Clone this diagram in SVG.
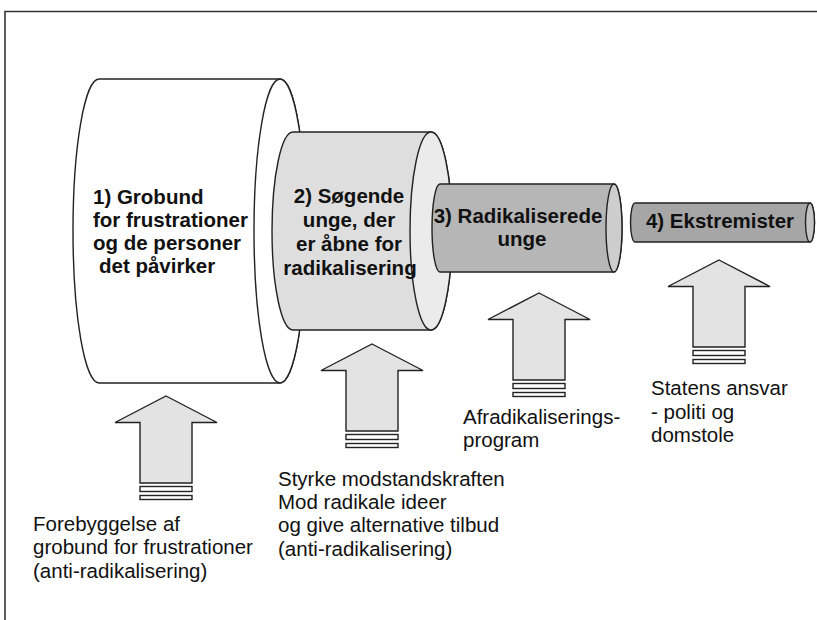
<svg xmlns="http://www.w3.org/2000/svg" xmlns:xlink="http://www.w3.org/1999/xlink" width="817" height="620" viewBox="0 0 817 620">
  <style>
    .ln { stroke: #222; stroke-width: 1.4; }
    .cyl-t { font-family: "Liberation Sans", Arial, sans-serif; font-weight: bold; font-size: 20.5px; fill: #111; }
    .lbl { font-family: "Liberation Sans", Arial, sans-serif; font-size: 20.5px; fill: #111; }
    .mid { text-anchor: middle; }
  </style>
  <defs>
    <g id="blockArrow">
      <polygon points="0,0 51,26.5 26,26.5 26,87 -26,87 -26,26.5 -51,26.5" fill="#e3e3e3" class="ln"/>
      <rect x="-26" y="90.5" width="52" height="5" fill="#fff" class="ln"/>
      <rect x="-26" y="99.5" width="52" height="4" fill="#fff" class="ln"/>
    </g>
  </defs>
  <rect x="0" y="0" width="817" height="620" fill="#fff"/>
  <g id="frame" fill="none" stroke="#333" stroke-width="1.6">
    <path d="M5,620 L5,11.5 L817,11.5"/>
  </g>

  <g id="node1">
    <path d="M99,79 L280,79 A26,152 0 0 1 280,383 L99,383 A26,152 0 0 1 99,79 Z" fill="#fff" class="ln"/>
    <ellipse cx="280" cy="231" rx="26" ry="152" fill="#fff" class="ln"/>
    <text class="cyl-t" x="93" y="204">1) Grobund</text>
    <text class="cyl-t" x="93" y="227">for frustrationer</text>
    <text class="cyl-t" x="93" y="250">og de personer</text>
    <text class="cyl-t" x="99" y="273">det påvirker</text>
  </g>

  <g id="node2">
    <path d="M293,132 L431,132 A21,99 0 0 1 431,330 L293,330 A21,99 0 0 1 293,132 Z" fill="#dedede" class="ln"/>
    <ellipse cx="431" cy="231" rx="21" ry="99" fill="#ebebeb" class="ln"/>
    <text class="cyl-t mid" x="349" y="203">2) Søgende</text>
    <text class="cyl-t mid" x="349" y="227">unge, der</text>
    <text class="cyl-t mid" x="349" y="251">er åbne for</text>
    <text class="cyl-t mid" x="350" y="275">radikalisering</text>
  </g>

  <g id="node3">
    <path d="M440,184 L614,184 A8,44 0 0 1 614,272 L440,272 A8,44 0 0 1 440,184 Z" fill="#b6b6b6" class="ln"/>
    <ellipse cx="614" cy="228" rx="8" ry="44" fill="#cdcdcd" class="ln"/>
    <text class="cyl-t mid" x="518" y="223">3) Radikaliserede</text>
    <text class="cyl-t mid" x="522" y="246">unge</text>
  </g>

  <g id="node4">
    <path d="M635,203 L810,203 A4.5,19.5 0 0 1 810,242 L635,242 A4.5,19.5 0 0 1 635,203 Z" fill="#a6a6a6" class="ln"/>
    <ellipse cx="810" cy="222.5" rx="4.5" ry="19.5" fill="#c4c4c4" class="ln"/>
    <text class="cyl-t mid" x="720" y="228">4) Ekstremister</text>
  </g>

  <g id="connectors">
    <use xlink:href="#blockArrow" transform="translate(166,396)"/>
    <use xlink:href="#blockArrow" transform="translate(372,344)"/>
    <use xlink:href="#blockArrow" transform="translate(539,293)"/>
    <use xlink:href="#blockArrow" transform="translate(719,260)"/>
  </g>

  <g id="label1">
    <text class="lbl" x="33" y="531">Forebyggelse af</text>
    <text class="lbl" x="33" y="554">grobund for frustrationer</text>
    <text class="lbl" x="33" y="578">(anti-radikalisering)</text>
  </g>
  <g id="label2">
    <text class="lbl" x="278" y="486">Styrke modstandskraften</text>
    <text class="lbl" x="278" y="509">Mod radikale ideer</text>
    <text class="lbl" x="278" y="532">og give alternative tilbud</text>
    <text class="lbl" x="278" y="556">(anti-radikalisering)</text>
  </g>
  <g id="label3">
    <text class="lbl" x="463" y="424">Afradikaliserings-</text>
    <text class="lbl" x="463" y="447">program</text>
  </g>
  <g id="label4">
    <text class="lbl" x="651" y="395">Statens ansvar</text>
    <text class="lbl" x="651" y="419">- politi og</text>
    <text class="lbl" x="651" y="442">domstole</text>
  </g>
</svg>
